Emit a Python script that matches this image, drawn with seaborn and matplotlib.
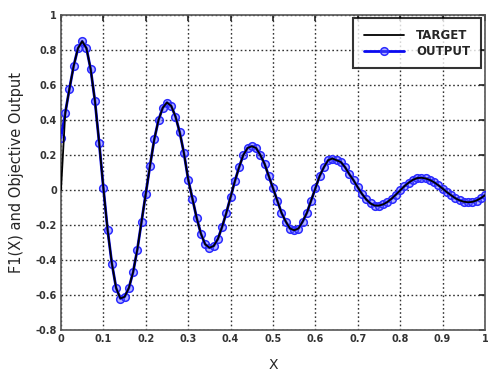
import numpy as np
import pandas as pd
import matplotlib
matplotlib.use("Agg")
import matplotlib.pyplot as plt
import seaborn as sns

# ---- data ----
x_vals = [round(i * 0.01, 2) for i in range(101)]
output_vals = [
    0.30, 0.44, 0.58, 0.71, 0.81, 0.85, 0.81, 0.69, 0.51, 0.27,
    0.01, -0.23, -0.42, -0.56, -0.62, -0.61, -0.56, -0.47, -0.34, -0.18,
    -0.02, 0.14, 0.29, 0.40, 0.47, 0.50, 0.48, 0.42, 0.33, 0.21,
    0.06, -0.05, -0.16, -0.25, -0.31, -0.33, -0.32, -0.28, -0.21, -0.13,
    -0.04, 0.05, 0.13, 0.20, 0.24, 0.25, 0.24, 0.20, 0.15, 0.08,
    0.01, -0.06, -0.13, -0.18, -0.22, -0.23, -0.22, -0.18, -0.13, -0.06,
    0.01, 0.08, 0.13, 0.17, 0.18, 0.17, 0.16, 0.13, 0.09, 0.055,
    0.015, -0.023, -0.054, -0.077, -0.089, -0.089, -0.082, -0.068, -0.049, -0.026,
    -0.002, 0.022, 0.042, 0.058, 0.068, 0.070, 0.066, 0.057, 0.044, 0.027,
    0.008, -0.012, -0.030, -0.047, -0.059, -0.067, -0.070, -0.068, -0.060, -0.047,
    -0.030,
]
target_vals = [0.0] + output_vals[1:]
x_ticks = [0, 0.1, 0.2, 0.3, 0.4, 0.5, 0.6, 0.7, 0.8, 0.9, 1.0]
x_tick_labels = ["0", "0.1", "0.2", "0.3", "0.4", "0.5", "0.6", "0.7", "0.8", "0.9", "1"]
y_ticks = [-0.8, -0.6, -0.4, -0.2, 0, 0.2, 0.4, 0.6, 0.8, 1.0]
y_tick_labels = ["-0.8", "-0.6", "-0.4", "-0.2", "0", "0.2", "0.4", "0.6", "0.8", "1"]

df = pd.DataFrame({"x": x_vals, "output": output_vals, "target": target_vals})

sns.set_style("white")
plt.rcParams["font.family"] = ["DejaVu Sans"]

fig = plt.figure(figsize=(4.89, 3.75), dpi=100)
ax = fig.add_axes([61 / 489, 1 - 330 / 375, (485 - 61) / 489, (330 - 15) / 375])

sns.lineplot(data=df, x="x", y="output", ax=ax, color="#0a0af0", lw=2.0,
             marker="o", markersize=5.5, markerfacecolor=(0.35, 0.35, 1.0, 0.45),
             markeredgecolor="#2a2aff", markeredgewidth=1.1, label="OUTPUT", zorder=3)
sns.lineplot(data=df, x="x", y="target", ax=ax, color="black", lw=1.3,
             label="TARGET", zorder=4)

ax.set_xlim(0, 1)
ax.set_ylim(-0.8, 1)
ax.set_xticks(x_ticks)
ax.set_xticklabels(x_tick_labels)
ax.set_yticks(y_ticks)
ax.set_yticklabels(y_tick_labels)
ax.tick_params(direction="in", length=4, width=1.2, top=True, right=True,
               labelsize=7, labelcolor="#333333", colors="#222222", pad=3)
for lab in ax.get_xticklabels() + ax.get_yticklabels():
    lab.set_fontweight("bold")
ax.grid(True, linestyle=(0, (1.2, 1.8)), color="#333333", linewidth=1.0)
ax.set_axisbelow(True)
for s in ax.spines.values():
    s.set_color("#555555")
    s.set_linewidth(1.2)

ax.set_xlabel("X", fontsize=10, labelpad=10)
ax.set_ylabel("F1(X) and Objective Output", fontsize=10.5, labelpad=8)

h, l = ax.get_legend_handles_labels()
order = [l.index("TARGET"), l.index("OUTPUT")]
leg = ax.legend([h[i] for i in order], [l[i] for i in order], loc="upper right",
                bbox_to_anchor=(0.99, 0.99), borderaxespad=0, frameon=True,
                fancybox=False, edgecolor="black", fontsize=8.5, handlelength=3.4,
                borderpad=0.9, labelspacing=0.25, handletextpad=1.0)
leg.get_frame().set_linewidth(1.5)
for t in leg.get_texts():
    t.set_fontweight("bold")

fig.savefig("out.png", dpi=100)
